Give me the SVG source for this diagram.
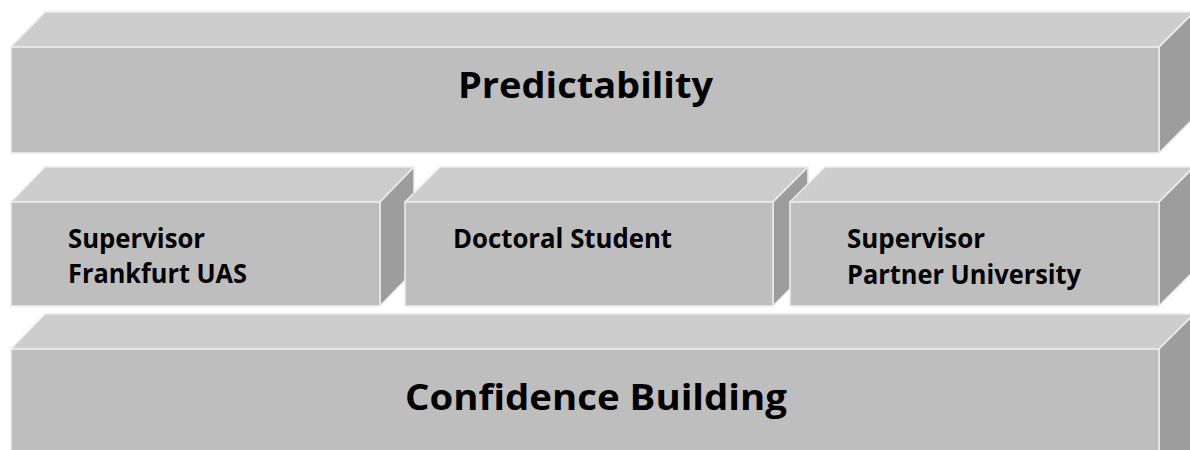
<svg xmlns="http://www.w3.org/2000/svg" width="1190" height="450" viewBox="0 0 1190 450">
<style>
.front{fill:#bebebe;stroke:#ececec;stroke-width:1.6}
.top{fill:#cdcdcd;stroke:#ececec;stroke-width:1.6;stroke-linejoin:round}
.side{fill:#9d9d9d;stroke:#ececec;stroke-width:1.6;stroke-linejoin:round}
.big{font-family:"Open Sans","Liberation Sans",sans-serif;font-weight:700;font-size:35px;fill:#000}
.small{font-family:"Open Sans","Liberation Sans",sans-serif;font-weight:700;font-size:26px;fill:#000}
</style>
<rect width="1190" height="450" fill="#ffffff"/>
<g id="predictability">
<polygon class="top" points="11,47 45,12 1194,12 1159,47"/>
<polygon class="side" points="1159,47 1194,12 1194,118 1159,153"/>
<rect class="front" x="11" y="47" width="1148" height="106"/>
<text class="big" x="458" y="98" textLength="255" lengthAdjust="spacingAndGlyphs">Predictability</text>
</g>
<g id="supervisor-frankfurt">
<polygon class="top" points="11,202 45,167 414,167 380,202"/>
<polygon class="side" points="380,202 414,167 414,271 380,306"/>
<rect class="front" x="11" y="202" width="369" height="104"/>
<text class="small" x="68" y="248" textLength="137" lengthAdjust="spacingAndGlyphs">Supervisor</text>
<text class="small" x="68" y="283" textLength="179" lengthAdjust="spacingAndGlyphs">Frankfurt UAS</text>
</g>
<g id="doctoral-student">
<polygon class="top" points="405,202 440,167 808,167 773,202"/>
<polygon class="side" points="773,202 808,167 808,271 773,306"/>
<rect class="front" x="405" y="202" width="368" height="104"/>
<text class="small" x="453" y="248" textLength="219" lengthAdjust="spacingAndGlyphs">Doctoral Student</text>
</g>
<g id="supervisor-partner">
<polygon class="top" points="790,202 825,167 1194,167 1159,202"/>
<polygon class="side" points="1159,202 1194,167 1194,271 1159,306"/>
<rect class="front" x="790" y="202" width="369" height="104"/>
<text class="small" x="847" y="248" textLength="138" lengthAdjust="spacingAndGlyphs">Supervisor</text>
<text class="small" x="847" y="284" textLength="234" lengthAdjust="spacingAndGlyphs">Partner University</text>
</g>
<g id="confidence-building">
<polygon class="top" points="11,349 45,314 1194,314 1159,349"/>
<polygon class="side" points="1159,349 1194,314 1194,460 1159,460"/>
<rect class="front" x="11" y="349" width="1148" height="111"/>
<text class="big" x="405" y="410" textLength="382" lengthAdjust="spacingAndGlyphs">Confidence Building</text>
</g>
<g id="connectors"/>
</svg>
